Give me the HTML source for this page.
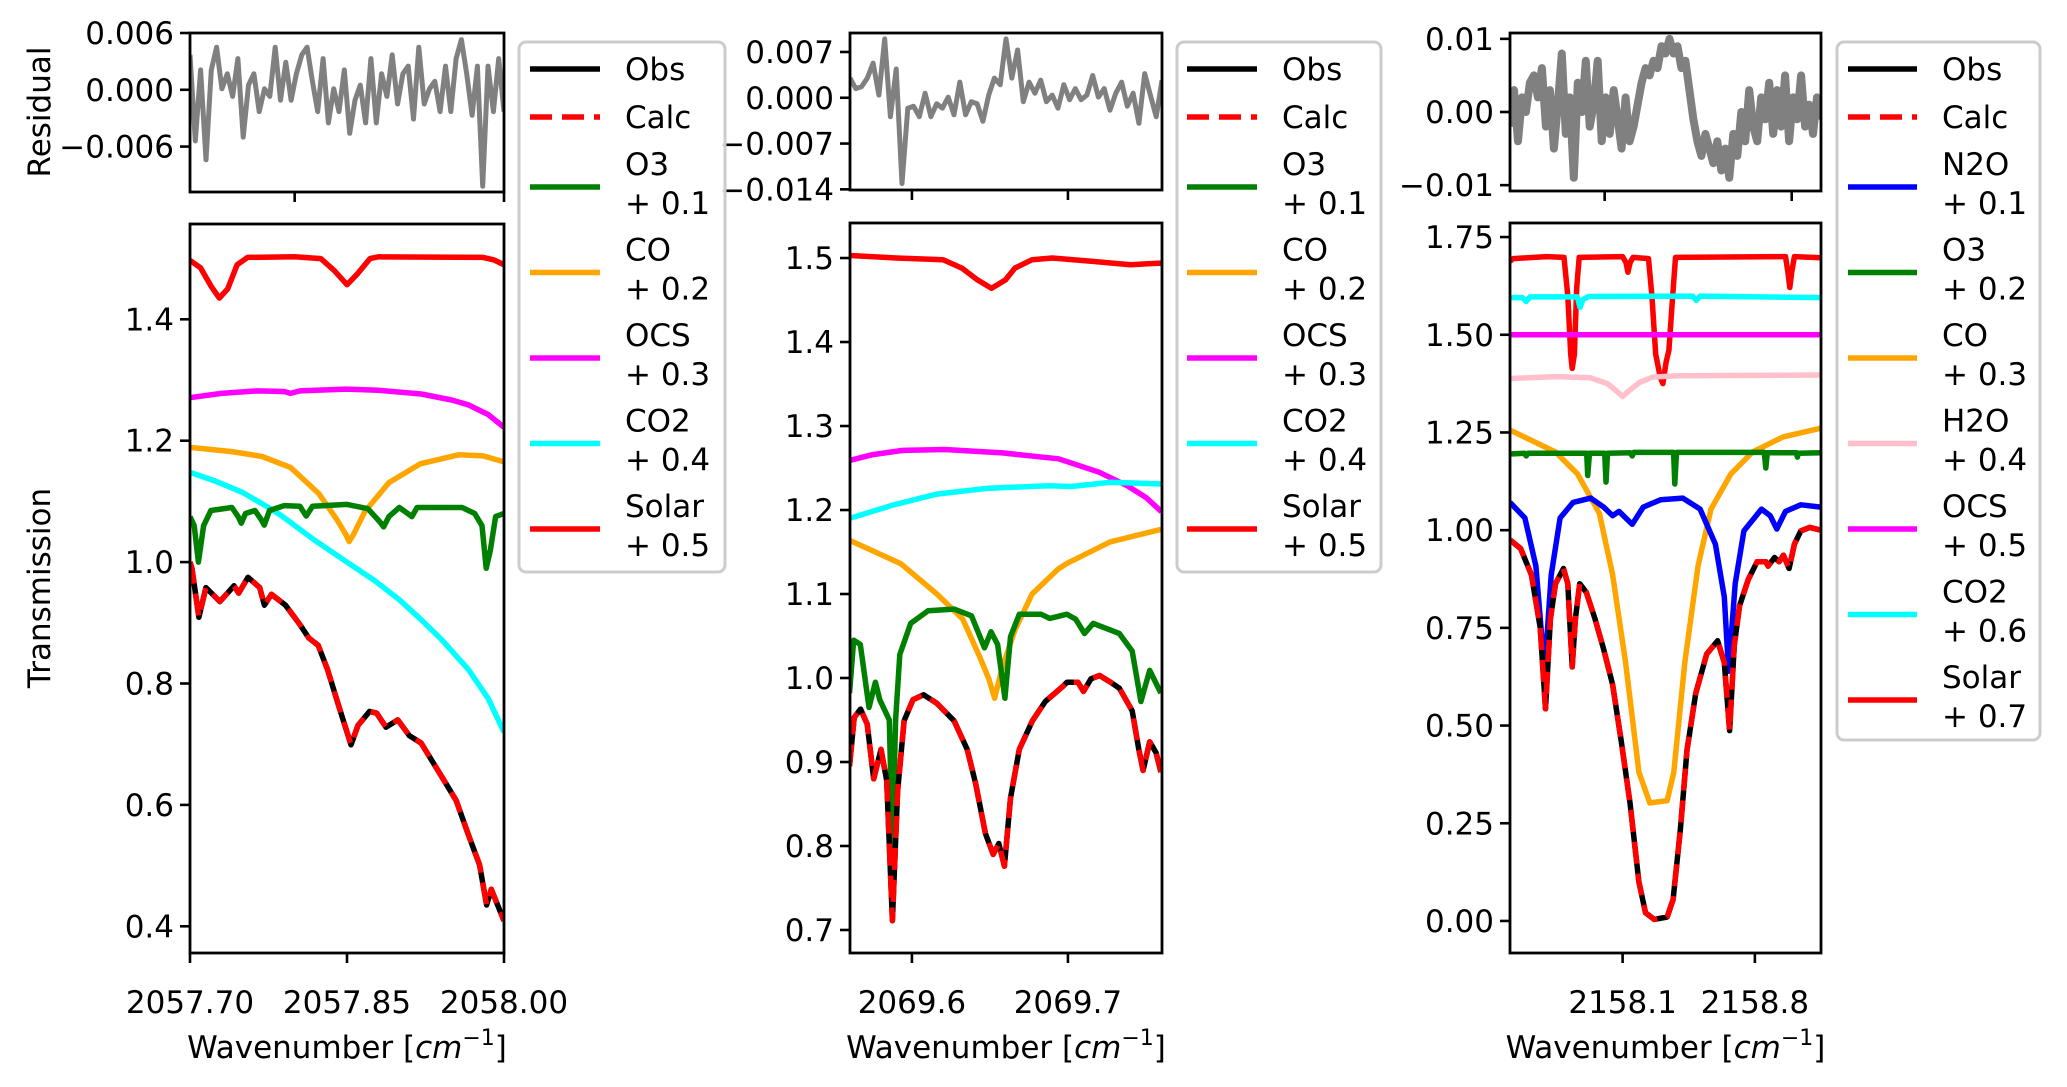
<!DOCTYPE html>
<html><head><meta charset="utf-8"><style>
html,body{margin:0;padding:0;background:#fff;}
svg{display:block;font-family:"DejaVu Sans","Liberation Sans",sans-serif;}
</style></head>
<body>
<svg id="fig" xmlns="http://www.w3.org/2000/svg" width="2067" height="1087" viewBox="0 0 2067 1087"></svg>
<script>
// ---------- Panel 1 data ----------
const p1Solar=[[2057.700,1.497],[2057.710,1.485],[2057.720,1.455],[2057.728,1.435],[2057.736,1.45],[2057.745,1.49],[2057.755,1.502],[2057.80,1.503],[2057.825,1.500],[2057.838,1.48],[2057.850,1.457],[2057.860,1.475],[2057.872,1.500],[2057.88,1.503],[2057.98,1.502],[2057.99,1.498],[2058.00,1.490]];
const p1OCS=[[2057.70,1.271],[2057.73,1.278],[2057.764,1.282],[2057.79,1.281],[2057.796,1.278],[2057.805,1.282],[2057.849,1.285],[2057.88,1.283],[2057.921,1.277],[2057.95,1.267],[2057.966,1.259],[2057.985,1.243],[2058.00,1.222]];
const p1CO=[[2057.70,1.189],[2057.74,1.182],[2057.769,1.174],[2057.796,1.156],[2057.823,1.113],[2057.840,1.071],[2057.849,1.045],[2057.852,1.034],[2057.856,1.045],[2057.867,1.083],[2057.890,1.131],[2057.92,1.162],[2057.957,1.177],[2057.98,1.175],[2058.00,1.165]];
const p1CO2=[[2057.70,1.148],[2057.725,1.133],[2057.75,1.115],[2057.775,1.09],[2057.787,1.077],[2057.82,1.035],[2057.85,1.0],[2057.876,0.97],[2057.90,0.938],[2057.921,0.905],[2057.94,0.873],[2057.966,0.823],[2057.985,0.775],[2058.00,0.72]];
const p1O3=[[2057.700,1.075],[2057.704,1.06],[2057.708,1.0],[2057.713,1.06],[2057.720,1.085],[2057.74,1.09],[2057.746,1.075],[2057.749,1.064],[2057.753,1.08],[2057.762,1.085],[2057.768,1.07],[2057.771,1.061],[2057.776,1.085],[2057.79,1.093],[2057.805,1.092],[2057.811,1.076],[2057.817,1.092],[2057.85,1.095],[2057.87,1.088],[2057.882,1.065],[2057.885,1.058],[2057.89,1.075],[2057.90,1.09],[2057.908,1.08],[2057.912,1.075],[2057.917,1.09],[2057.96,1.09],[2057.972,1.08],[2057.979,1.06],[2057.983,0.99],[2057.987,1.02],[2057.992,1.075],[2058.00,1.08]];
const p1Obs=[[2057.700,1.0],[2057.7018,0.99],[2057.7085,0.909],[2057.7152,0.958],[2057.7286,0.935],[2057.742,0.961],[2057.7465,0.949],[2057.7554,0.975],[2057.7666,0.958],[2057.7711,0.929],[2057.7778,0.947],[2057.7912,0.929],[2057.8046,0.898],[2057.8135,0.875],[2057.8225,0.863],[2057.8314,0.823],[2057.8426,0.760],[2057.8538,0.699],[2057.8605,0.731],[2057.8716,0.754],[2057.8784,0.751],[2057.8873,0.728],[2057.8985,0.740],[2057.9096,0.714],[2057.9208,0.702],[2057.9432,0.639],[2057.9543,0.607],[2057.9655,0.553],[2057.9767,0.501],[2057.9834,0.435],[2057.9879,0.461],[2058.0,0.409]];
const p1Res=[0.0037,-0.0054,0.0021,-0.0074,0.0021,0.0045,0.0001,0.0017,-0.0007,0.0033,-0.005,0.0005,0.0017,-0.0023,0.0001,-0.0007,0.0045,-0.0011,0.0029,-0.0011,0.0017,0.0037,0.0045,0.0009,-0.0023,0.0033,-0.0035,0.0001,-0.0023,0.0021,-0.0046,-0.0011,0.0005,-0.0035,0.0033,-0.0035,0.0017,-0.0007,0.0037,-0.0015,0.0017,0.0025,-0.0031,0.0045,-0.0015,0.0001,0.0009,-0.0023,0.0025,-0.0023,0.0033,0.0053,0.0017,-0.0027,0.0025,-0.0102,0.0025,-0.0023,0.0033,-0.0023];
const p1XTicks=[2057.70,2057.85,2058.00], p1XTickLabels=["2057.70","2057.85","2058.00"];
const p1YTicks=[0.4,0.6,0.8,1.0,1.2,1.4], p1YTickLabels=["0.4","0.6","0.8","1.0","1.2","1.4"];
const p1RTicks=[-0.006,0,0.006], p1RTickLabels=["−0.006","0.000","0.006"];
const p1RXTicks=[2057.80,2058.00];
const p1Legend=["Obs","Calc","O3|+ 0.1","CO|+ 0.2","OCS|+ 0.3","CO2|+ 0.4","Solar|+ 0.5"];

// ---------- Panel 2 data ----------
const p2Solar=[[2069.560,1.503],[2069.59,1.500],[2069.62,1.498],[2069.632,1.488],[2069.642,1.474],[2069.651,1.464],[2069.660,1.474],[2069.666,1.488],[2069.677,1.498],[2069.69,1.500],[2069.716,1.496],[2069.74,1.492],[2069.76,1.494]];
const p2OCS=[[2069.56,1.259],[2069.575,1.266],[2069.594,1.271],[2069.621,1.272],[2069.658,1.268],[2069.694,1.261],[2069.72,1.245],[2069.738,1.229],[2069.75,1.215],[2069.76,1.198]];
const p2CO2=[[2069.56,1.19],[2069.588,1.206],[2069.616,1.219],[2069.649,1.226],[2069.688,1.229],[2069.702,1.228],[2069.727,1.233],[2069.76,1.231]];
const p2CO=[[2069.56,1.164],[2069.593,1.136],[2069.616,1.100],[2069.6326,1.070],[2069.6437,1.024],[2069.6493,0.999],[2069.653,0.976],[2069.6577,1.011],[2069.666,1.057],[2069.677,1.100],[2069.6939,1.130],[2069.70,1.137],[2069.727,1.162],[2069.76,1.177]];
const p2O3=[[2069.560,0.982],[2069.5627,1.045],[2069.5669,1.04],[2069.5725,0.965],[2069.5766,0.995],[2069.5794,0.974],[2069.5855,0.95],[2069.5875,0.799],[2069.5895,0.95],[2069.5922,1.028],[2069.5992,1.065],[2069.6103,1.08],[2069.627,1.082],[2069.6382,1.074],[2069.6465,1.036],[2069.6507,1.055],[2069.6549,1.04],[2069.6596,0.976],[2069.6632,1.049],[2069.6688,1.076],[2069.6827,1.076],[2069.6883,1.071],[2069.6994,1.076],[2069.705,1.07],[2069.7106,1.053],[2069.7162,1.065],[2069.7329,1.053],[2069.7412,1.032],[2069.7468,0.972],[2069.7524,1.009],[2069.7596,0.982]];
const p2Obs=[[2069.560,0.895],[2069.5630,0.953],[2069.5671,0.963],[2069.5713,0.945],[2069.5755,0.880],[2069.5802,0.915],[2069.5838,0.878],[2069.5875,0.711],[2069.5908,0.865],[2069.595,0.949],[2069.6006,0.974],[2069.6075,0.98],[2069.6159,0.97],[2069.627,0.949],[2069.6354,0.915],[2069.6409,0.874],[2069.6471,0.815],[2069.6521,0.79],[2069.6557,0.803],[2069.6593,0.776],[2069.6632,0.857],[2069.6688,0.915],[2069.6772,0.949],[2069.6855,0.972],[2069.6967,0.99],[2069.6994,0.995],[2069.7064,0.995],[2069.71,0.984],[2069.7148,0.999],[2069.7203,1.003],[2069.7273,0.995],[2069.7329,0.988],[2069.7412,0.961],[2069.7454,0.915],[2069.7482,0.89],[2069.7524,0.924],[2069.7565,0.911],[2069.7596,0.888]];
const p2Res=[0.0030,0.0014,0.0017,0.0030,0.0053,0.0004,0.0090,-0.0029,0.0044,-0.0131,-0.0016,-0.0013,-0.0029,0.0007,-0.0029,-0.0009,-0.0016,0.0001,-0.0026,0.0024,-0.0026,-0.0006,-0.0009,-0.0036,0.0004,0.003,0.002,0.009,0.003,0.0073,-0.0006,0.0024,0.0007,0.0027,-0.0006,0.0004,-0.0016,0.002,-0.0003,0.0014,-0.0003,0.0004,0.0034,0.0001,0.0014,-0.0019,0.0007,0.0024,-0.0013,0.0007,-0.0039,0.0037,0.0004,-0.0029,0.0027];
const p2XTicks=[2069.6,2069.7], p2XTickLabels=["2069.6","2069.7"];
const p2YTicks=[0.7,0.8,0.9,1.0,1.1,1.2,1.3,1.4,1.5], p2YTickLabels=["0.7","0.8","0.9","1.0","1.1","1.2","1.3","1.4","1.5"];
const p2RTicks=[-0.014,-0.007,0,0.007], p2RTickLabels=["−0.014","−0.007","0.000","0.007"];
const p2RXTicks=[2069.6,2069.7];
const p2Legend=["Obs","Calc","O3|+ 0.1","CO|+ 0.2","OCS|+ 0.3","CO2|+ 0.4","Solar|+ 0.5"];

// ---------- Panel 3 data ----------
const p3Solar=[[2157.504,1.688],[2157.52,1.695],[2157.70,1.700],[2157.79,1.698],[2157.81,1.60],[2157.825,1.45],[2157.833,1.414],[2157.845,1.45],[2157.857,1.62],[2157.87,1.698],[2158.10,1.700],[2158.118,1.685],[2158.128,1.66],[2158.14,1.685],[2158.155,1.698],[2158.237,1.695],[2158.255,1.60],[2158.275,1.45],[2158.30,1.39],[2158.313,1.375],[2158.33,1.43],[2158.345,1.46],[2158.365,1.60],[2158.38,1.698],[2158.962,1.700],[2158.975,1.66],[2158.985,1.621],[2158.995,1.66],[2159.009,1.700],[2159.15,1.697]];
const p3CO2=[[2157.504,1.595],[2157.57,1.595],[2157.59,1.585],[2157.61,1.597],[2157.86,1.597],[2157.875,1.57],[2157.89,1.59],[2157.92,1.598],[2158.47,1.599],[2158.49,1.588],[2158.51,1.599],[2159.15,1.595]];
const p3OCS=[[2157.504,1.5],[2159.15,1.5]];
const p3H2O=[[2157.504,1.388],[2157.60,1.390],[2157.75,1.393],[2157.93,1.390],[2158.02,1.375],[2158.07,1.355],[2158.10,1.342],[2158.13,1.355],[2158.19,1.378],[2158.26,1.392],[2158.40,1.395],[2159.15,1.397]];
const p3CO=[[2157.504,1.256],[2157.745,1.2],[2157.861,1.144],[2157.977,1.043],[2158.047,0.886],[2158.116,0.661],[2158.186,0.381],[2158.244,0.302],[2158.336,0.308],[2158.371,0.381],[2158.429,0.661],[2158.499,0.908],[2158.568,1.054],[2158.673,1.144],[2158.788,1.2],[2158.951,1.239],[2159.15,1.261]];
const p3O3=[[2157.504,1.195],[2157.58,1.197],[2157.59,1.19],[2157.60,1.197],[2157.91,1.197],[2157.915,1.14],[2157.925,1.197],[2158.005,1.197],[2158.012,1.123],[2158.02,1.197],[2158.14,1.198],[2158.151,1.19],[2158.16,1.199],[2158.37,1.199],[2158.376,1.118],[2158.385,1.199],[2158.85,1.199],[2158.858,1.159],[2158.866,1.198],[2159.02,1.198],[2159.025,1.187],[2159.03,1.197],[2159.15,1.198]];
const p3N2O=[[2157.504,1.071],[2157.583,1.031],[2157.641,0.908],[2157.687,0.639],[2157.722,0.885],[2157.769,1.031],[2157.838,1.071],[2157.931,1.082],[2158.0,1.059],[2158.047,1.037],[2158.081,1.048],[2158.151,1.015],[2158.209,1.059],[2158.302,1.078],[2158.418,1.082],[2158.51,1.054],[2158.591,0.964],[2158.638,0.829],[2158.661,0.639],[2158.696,0.863],[2158.742,0.998],[2158.835,1.054],[2158.881,1.037],[2158.916,1.003],[2158.962,1.048],[2159.043,1.065],[2159.15,1.059]];
const p3Obs=[[2157.504,0.975],[2157.560,0.953],[2157.618,0.885],[2157.664,0.751],[2157.692,0.543],[2157.718,0.773],[2157.745,0.863],[2157.787,0.902],[2157.810,0.863],[2157.833,0.65],[2157.850,0.773],[2157.873,0.863],[2157.908,0.841],[2157.954,0.773],[2158.0,0.695],[2158.047,0.605],[2158.093,0.459],[2158.139,0.302],[2158.186,0.1],[2158.221,0.021],[2158.267,0.004],[2158.336,0.01],[2158.367,0.055],[2158.406,0.235],[2158.441,0.437],[2158.487,0.582],[2158.545,0.683],[2158.603,0.717],[2158.638,0.661],[2158.666,0.487],[2158.691,0.706],[2158.719,0.807],[2158.765,0.874],[2158.812,0.919],[2158.858,0.919],[2158.870,0.908],[2158.904,0.93],[2158.928,0.919],[2158.951,0.936],[2158.981,0.902],[2159.009,0.964],[2159.043,0.998],[2159.090,1.007],[2159.150,1.0]];
const p3Res=[-0.002,0.003,-0.004,0.002,0.0,0.004,0.005,0.002,0.006,-0.002,0.003,-0.005,0.001,0.008,-0.003,0.002,-0.009,0.004,0.0,0.007,-0.002,0.001,0.007,-0.004,0.002,-0.003,0.003,-0.001,-0.005,0.002,-0.004,-0.002,0.001,0.004,0.006,0.005,0.007,0.006,0.009,0.008,0.01,0.008,0.009,0.006,0.007,0.003,-0.001,-0.004,-0.006,-0.003,-0.005,-0.007,-0.004,-0.008,-0.005,-0.009,-0.003,-0.006,0.0,-0.004,0.003,-0.002,-0.004,0.002,-0.001,0.004,-0.003,0.003,-0.002,0.005,-0.004,0.002,-0.001,0.005,-0.002,0.001,-0.003,0.002,-0.001];
const p3XTicks=[2158.1,2158.8], p3XTickLabels=["2158.1","2158.8"];
const p3YTicks=[0,0.25,0.5,0.75,1.0,1.25,1.5,1.75], p3YTickLabels=["0.00","0.25","0.50","0.75","1.00","1.25","1.50","1.75"];
const p3RTicks=[-0.01,0,0.01], p3RTickLabels=["−0.01","0.00","0.01"];
const p3RXTicks=[2158.005,2158.995];
const p3Legend=["Obs","Calc","N2O|+ 0.1","O3|+ 0.2","CO|+ 0.3","H2O|+ 0.4","OCS|+ 0.5","CO2|+ 0.6","Solar|+ 0.7"];

const NS="http://www.w3.org/2000/svg";
const svg=document.getElementById('fig');
const LW=5.5;
function mk(tag,attrs,parent){const e=document.createElementNS(NS,tag);for(const k in attrs)e.setAttribute(k,attrs[k]);(parent||svg).appendChild(e);return e;}
function lin(d0,d1,r0,r1){return v=>r0+(v-d0)/(d1-d0)*(r1-r0);}
function pathOf(pts,sx,sy){return pts.map((p,i)=>(i?'L':'M')+sx(p[0]).toFixed(1)+' '+sy(p[1]).toFixed(1)).join(' ');}

let clipId=0;
function drawAxes(g,box,xd,yd,xt,xtl,yt,ytl,name,showXLabels){
  const sx=lin(xd[0],xd[1],box.l,box.r), sy=lin(yd[0],yd[1],box.b,box.t);
  yt.forEach((v,i)=>{
    const y=sy(v);
    const t=mk('line',{x1:box.l-10,x2:box.l,y1:y,y2:y,stroke:'#000','stroke-width':2.6},g);
    
    
    const tx=mk('text',{x:box.l-16,y:y+11,'text-anchor':'end','font-size':31,fill:'#000'},g);
    tx.textContent=ytl[i];
    
    
  });
  xt.forEach((v,i)=>{
    const x=sx(v);
    const t=mk('line',{x1:x,x2:x,y1:box.b,y2:box.b+10,stroke:'#000','stroke-width':2.6},g);
    
    
    if(showXLabels){
      const tx=mk('text',{x:x,y:box.b+60,'text-anchor':'middle','font-size':31,fill:'#000'},g);
      tx.textContent=xtl[i];
      
      
    }
  });
  const id='clip'+(clipId++);
  const cp=mk('clipPath',{id:id},g);mk('rect',{x:box.l,y:box.t,width:box.r-box.l,height:box.b-box.t},cp);
  const plot=mk('g',{'clip-path':'url(#'+id+')'},g);
  
  
  return {sx,sy,plot,finish:()=>{const f=mk('rect',{x:box.l,y:box.t,width:box.r-box.l,height:box.b-box.t,fill:'none',stroke:'#000','stroke-width':2.8},g);}};
}
function line(ax,pts,color,nm,extra){
  const p=mk('path',Object.assign({d:pathOf(pts,ax.sx,ax.sy),fill:'none',stroke:color,'stroke-width':LW,'stroke-linejoin':'round'},extra||{}),ax.plot);
  
  
}
const colors={Obs:'#000',Calc:'#ff0000',N2O:'#0000ff',O3:'#008000',CO:'#ffa500',H2O:'#ffc0cb',OCS:'#ff00ff',CO2:'#00ffff',Solar:'#ff0000'};

function panel(cfg){
  const g=mk('g',{});
  
  
  const r=drawAxes(g,cfg.rbox,cfg.xd,cfg.rd,cfg.rxt,[],cfg.rt,cfg.rtl,cfg.name+'-residual',false);
  const n=cfg.res.length;
  const rp=cfg.res.map((v,i)=>[cfg.xd[0]+(cfg.xd[1]-cfg.xd[0])*i/(n-1),v]);
  line(r,rp,'#808080',cfg.name+'-residual-line',{'stroke-width':cfg.rw});
  r.finish();
  const m=drawAxes(g,cfg.mbox,cfg.xd,cfg.md,cfg.xt,cfg.xtl,cfg.yt,cfg.ytl,cfg.name+'-main',true);
  cfg.series.forEach(s=>line(m,s[1],colors[s[0]],cfg.name+'-'+s[0].toLowerCase()+'-line'));
  line(m,cfg.obs,'#000',cfg.name+'-obs-line');
  line(m,cfg.obs,'#ff0000',cfg.name+'-calc-line',{'stroke-dasharray':'22,10'});
  m.finish();
  const xl=mk('text',{x:(cfg.mbox.l+cfg.mbox.r)/2,y:1058,'text-anchor':'middle','font-size':31,fill:'#000'},g);
  xl.innerHTML='Wavenumber [<tspan font-style="italic">cm</tspan><tspan font-size="22" dy="-13">−1</tspan><tspan dy="13">]</tspan>';
  
  
  return g;
}
function legend(cfg){
  const L=cfg.leg;
  const g=mk('g',{});
  
  
  const bx=mk('rect',{x:L.x,y:L.y,width:L.w,height:L.h,rx:7,fill:'#fff','fill-opacity':0.85,stroke:'#cccccc','stroke-width':3},g);
  
  
  let y=L.y+27;
  cfg.labels.forEach((lab)=>{
    const parts=lab.split('|');const key=parts[0];
    const ly = parts.length>1 ? y+22 : y;
    const ln=mk('line',{x1:L.lx0,x2:L.lx1,y1:ly,y2:ly,stroke:colors[key],'stroke-width':LW},g);
    if(key==='Calc')ln.setAttribute('stroke-dasharray','22,10');
    
    
    const t=mk('text',{x:L.tx,y:(parts.length>1?ly-12:ly+11),'font-size':31,fill:'#000'},g);
    t.textContent=parts[0];
    
    
    if(parts.length>1){
      const t2=mk('text',{x:L.tx,y:ly+27,'font-size':31,fill:'#000'},g);
      t2.textContent=parts[1];
      
      
    }
    y = parts.length>1 ? y+85.5 : y+48;
  });
}
const P1={name:'panel-2057',rw:5,rbox:{l:190,r:504,t:33,b:192},mbox:{l:190,r:504,t:224,b:953},xd:[2057.70,2058.00],rd:[-0.0108,0.006],md:[0.356,1.557],
  xt:p1XTicks,xtl:p1XTickLabels,yt:p1YTicks,ytl:p1YTickLabels,rt:p1RTicks,rtl:p1RTickLabels,rxt:p1RXTicks,res:p1Res,obs:p1Obs,
  series:[['Solar',p1Solar],['OCS',p1OCS],['CO',p1CO],['CO2',p1CO2],['O3',p1O3]],labels:p1Legend,
  leg:{x:519,y:42,w:206,h:530,lx0:530,lx1:600,tx:625}};
const P2={name:'panel-2069',rw:5,rbox:{l:850,r:1162,t:33,b:190},mbox:{l:850,r:1162,t:223,b:953},xd:[2069.5603,2069.7603],rd:[-0.0141,0.0099],md:[0.6726,1.5417],
  xt:p2XTicks,xtl:p2XTickLabels,yt:p2YTicks,ytl:p2YTickLabels,rt:p2RTicks,rtl:p2RTickLabels,rxt:p2RXTicks,res:p2Res,obs:p2Obs,
  series:[['Solar',p2Solar],['OCS',p2OCS],['CO2',p2CO2],['CO',p2CO],['O3',p2O3]],labels:p2Legend,
  leg:{x:1177,y:42,w:204,h:530,lx0:1187,lx1:1257,tx:1282}};
const P3={name:'panel-2158',rw:8,rbox:{l:1510,r:1821,t:33,b:191},mbox:{l:1510,r:1821,t:223,b:953},xd:[2157.504,2159.15],rd:[-0.0108,0.0108],md:[-0.082,1.786],
  xt:p3XTicks,xtl:p3XTickLabels,yt:p3YTicks,ytl:p3YTickLabels,rt:p3RTicks,rtl:p3RTickLabels,rxt:p3RXTicks,res:p3Res,obs:p3Obs,
  series:[['Solar',p3Solar],['CO2',p3CO2],['OCS',p3OCS],['H2O',p3H2O],['CO',p3CO],['O3',p3O3],['N2O',p3N2O]],labels:p3Legend,
  leg:{x:1837,y:42,w:203,h:698,lx0:1848,lx1:1917,tx:1942}};
panel(P1);panel(P2);legend(P1);panel(P3);legend(P2);legend(P3);

const yl1=mk('text',{x:0,y:0,transform:'translate(50,112) rotate(-90)','text-anchor':'middle','font-size':31,fill:'#000'});
yl1.textContent='Residual';


const yl2=mk('text',{x:0,y:0,transform:'translate(50,588) rotate(-90)','text-anchor':'middle','font-size':31,fill:'#000'});
yl2.textContent='Transmission';


</script>
</body></html>
